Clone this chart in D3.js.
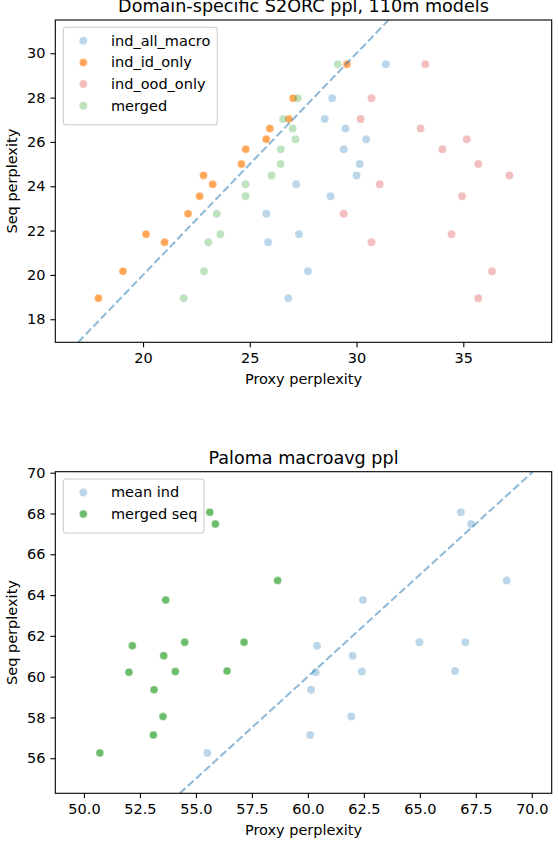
<!DOCTYPE html>
<html><head><meta charset="utf-8">
<script src="https://cdn.jsdelivr.net/npm/d3@7"></script>
<style>
body{margin:0;background:#fff}
svg text{font-family:"DejaVu Sans",sans-serif;fill:#000}
</style>
</head><body>
<svg id="chart" width="558" height="842"></svg>
<script>
// ---------- Top panel data ----------
const seqTop      = [29.50, 27.97, 27.03, 26.61, 26.12, 25.67, 25.00, 24.49, 24.09, 23.55, 22.76, 21.84, 21.47, 20.16, 18.95];
const indAllMacro = [31.37, 28.86, 28.51, 29.48, 30.45, 29.40, 30.15, 30.00, 27.17, 28.78, 25.77, 27.30, 25.86, 27.72, 26.80];
const indIdOnly   = [29.55, 27.03, 26.83, 25.94, 25.77, 24.81, 24.61, 22.83, 23.26, 22.65, 22.11, 20.14, 21.01, 19.06, 17.91];
const indOodOnly  = [33.22, 30.70, 30.19, 33.00, 35.16, 34.02, 35.70, 37.16, 31.08, 34.94, 29.40, 34.45, 30.70, 36.34, 35.70];
const mergedTop   = [29.12, 27.25, 26.56, 27.01, 27.14, 26.45, 26.44, 26.02, 24.80, 24.80, 23.45, 23.62, 23.06, 22.86, 21.90];
const topSeriesNames = ["ind_all_macro", "ind_id_only", "ind_ood_only", "merged"];
const xTicksTop = [20, 25, 30, 35];
const yTicksTop = [18, 20, 22, 24, 26, 28, 30];
const xDomainTop = [15.89, 39.14];
const yDomainTop = [16.96, 31.5];

// ---------- Bottom panel data ----------
const seqBottom = [68.06, 67.49, 64.71, 63.76, 61.69, 61.69, 61.52, 61.03, 60.22, 60.25, 60.28, 59.36, 58.04, 57.14, 56.26];
const meanInd   = [66.83, 67.29, 68.88, 62.46, 64.98, 67.03, 60.41, 62.00, 60.35, 62.41, 66.57, 60.14, 61.94, 60.10, 55.51];
const mergedSeq = [55.62, 55.87, 58.65, 53.65, 54.50, 57.15, 52.16, 53.56, 52.01, 54.08, 56.39, 53.13, 53.53, 53.10, 50.71];
const bottomSeriesNames = ["mean ind", "merged seq"];
const xTicksBottom = [50, 52.5, 55, 57.5, 60, 62.5, 65, 67.5, 70];
const yTicksBottom = [56, 58, 60, 62, 64, 66, 68, 70];
const xDomainBottom = [48.72, 70.89];
const yDomainBottom = [54.28, 70.05];

const svg = d3.select("#chart");
const FS = 14.5;

function panel(opts) {
  const {id, left, right, top, bottom, xDomain, yDomain, xTicks, yTicks, xFmt, title, series, legend} = opts;
  const x = d3.scaleLinear().domain(xDomain).range([left, right]);
  const y = d3.scaleLinear().domain(yDomain).range([bottom, top]);
  const g = svg.append("g");

  g.append("clipPath").attr("id", "clip" + id)
    .append("rect").attr("x", left).attr("y", top).attr("width", right - left).attr("height", bottom - top);

  // points
  const pts = g.append("g");
  series.forEach(s => {
    pts.selectAll(null).data(s.xs.map((v, i) => [v, s.ys[i]])).enter()
      .append("circle")
      .attr("cx", d => x(d[0])).attr("cy", d => y(d[1])).attr("r", 4)
      .attr("fill", s.color).attr("fill-opacity", s.alpha)
      .attr("stroke", "#fff").attr("stroke-width", 0.6).attr("stroke-opacity", s.alpha);
  });

  // y = x reference line
  const lo = Math.max(xDomain[0], yDomain[0]), hi = Math.min(xDomain[1], yDomain[1]);
  g.append("line").attr("clip-path", `url(#clip${id})`)
    .attr("x1", x(lo)).attr("y1", y(lo)).attr("x2", x(hi)).attr("y2", y(hi))
    .attr("stroke", "#1f77b4").attr("stroke-opacity", 0.5)
    .attr("stroke-width", 2.08).attr("stroke-dasharray", "7.7,3.3");

  // axes
  const ax = g.append("g").attr("transform", `translate(0,${bottom})`)
    .call(d3.axisBottom(x).tickValues(xTicks).tickFormat(xFmt).tickSize(4.9).tickPadding(4.9).tickSizeOuter(0));
  const ay = g.append("g").attr("transform", `translate(${left},0)`)
    .call(d3.axisLeft(y).tickValues(yTicks).tickFormat(d3.format("d")).tickSize(4.9).tickPadding(4.9).tickSizeOuter(0));
  [ax, ay].forEach(a => {
    a.select(".domain").remove();
    a.selectAll(".tick line").attr("stroke", "#000").attr("stroke-width", 1.1);
    a.selectAll(".tick text").attr("font-family", "DejaVu Sans").attr("font-size", FS).attr("fill", "#000");
  });
  ax.selectAll(".tick text").attr("dy", "0.74em");

  // frame
  g.append("rect").attr("x", left).attr("y", top).attr("width", right - left).attr("height", bottom - top)
    .attr("fill", "none").attr("stroke", "#000").attr("stroke-width", 1.1);

  // labels
  const cx = (left + right) / 2, cy = (top + bottom) / 2;
  g.append("text").attr("x", cx).attr("y", top - 8.2).attr("text-anchor", "middle")
    .attr("font-size", 17.6).text(title);
  g.append("text").attr("x", cx).attr("y", bottom + 41.2).attr("text-anchor", "middle")
    .attr("font-size", FS).text("Proxy perplexity");
  g.append("text").attr("transform", `translate(17,${cy}) rotate(-90)`).attr("text-anchor", "middle")
    .attr("font-size", FS).text("Seq perplexity");

  // legend
  const lg = g.append("g");
  lg.append("rect").attr("x", 63.3).attr("y", top + 7.3).attr("width", legend.w)
    .attr("height", 14 + 21.7 * series.length - 7.4 + 4)
    .attr("rx", 2.8).attr("fill", "#fff").attr("fill-opacity", 0.8)
    .attr("stroke", "#cccccc").attr("stroke-width", 1.1);
  series.forEach((s, i) => {
    const yy = top + 20.7 + 21.7 * i;
    lg.append("circle").attr("cx", 83.3).attr("cy", yy).attr("r", 4)
      .attr("fill", s.color).attr("fill-opacity", s.alpha)
      .attr("stroke", "#fff").attr("stroke-width", 0.6).attr("stroke-opacity", s.alpha);
    lg.append("text").attr("x", 111).attr("y", yy + 4.8).attr("font-size", FS).text(s.name);
  });
}

panel({
  id: "top", left: 55.3, right: 551.7, top: 20, bottom: 342.3,
  xDomain: xDomainTop, yDomain: yDomainTop, xTicks: xTicksTop, yTicks: yTicksTop,
  xFmt: d3.format("d"), title: "Domain-specific S2ORC ppl, 110m models",
  legend: {w: 154},
  series: [
    {name: topSeriesNames[0], xs: indAllMacro, ys: seqTop, color: "#1f77b4", alpha: 0.3},
    {name: topSeriesNames[1], xs: indIdOnly,   ys: seqTop, color: "#ff7f0e", alpha: 0.7},
    {name: topSeriesNames[2], xs: indOodOnly,  ys: seqTop, color: "#d62728", alpha: 0.3},
    {name: topSeriesNames[3], xs: mergedTop,   ys: seqTop, color: "#2ca02c", alpha: 0.3}
  ]
});

panel({
  id: "bottom", left: 55.3, right: 551.7, top: 471.7, bottom: 793.3,
  xDomain: xDomainBottom, yDomain: yDomainBottom, xTicks: xTicksBottom, yTicks: yTicksBottom,
  xFmt: d3.format(".1f"), title: "Paloma macroavg ppl",
  legend: {w: 140.7},
  series: [
    {name: bottomSeriesNames[0], xs: meanInd,   ys: seqBottom, color: "#1f77b4", alpha: 0.3},
    {name: bottomSeriesNames[1], xs: mergedSeq, ys: seqBottom, color: "#2ca02c", alpha: 0.7}
  ]
});
</script>
</body></html>
